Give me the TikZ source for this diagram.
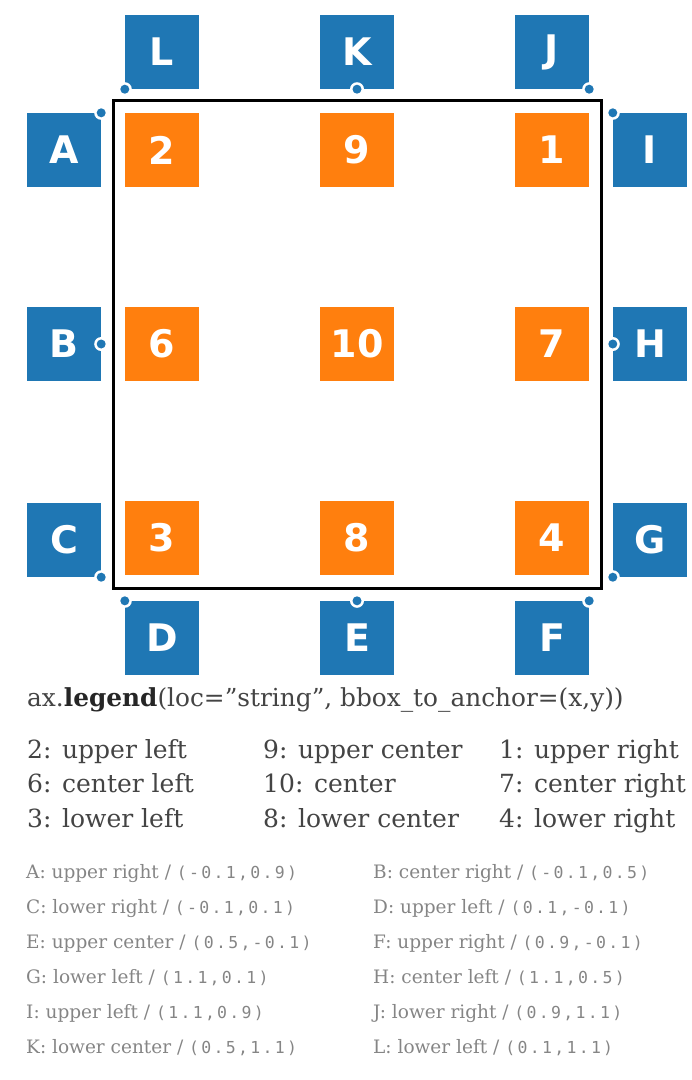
\documentclass[tikz,border=0pt]{standalone}
\usepackage{fontspec}
\setmainfont{DejaVu Serif}
\setsansfont{DejaVu Sans}
\newfontfamily\codefont[LetterSpace=14]{DejaVu Sans Mono}
\usetikzlibrary{positioning}
\definecolor{locblue}{HTML}{1F77B4}
\definecolor{locorange}{HTML}{FF7F0E}
\definecolor{ink}{HTML}{444444}
\definecolor{faint}{HTML}{858585}
\tikzset{
  legbox/.style={minimum size=74pt,inner sep=0pt,text=white,font=\sffamily\bfseries\fontsize{38}{38}\selectfont},
  inbox/.style={legbox,fill=locorange},
  outbox/.style={legbox,fill=locblue},
  loctext/.style={anchor=base west,inner sep=0pt,text=ink,font=\fontsize{25}{25}\selectfont},
  anctext/.style={anchor=base west,inner sep=0pt,text=faint,font=\fontsize{18.5}{18.5}\selectfont}
}
\begin{document}
\begin{tikzpicture}[x=1pt,y=-1pt]
\useasboundingbox (0,0) rectangle (692,1080);
% the axes frame
\node[draw,line width=3pt,minimum size=488pt,inner sep=0pt] (ax) at (357,344) {};
% legends placed with loc only
\foreach \n/\x/\y in {2/162/150,9/357/150,1/552/150,6/162/344,10/357/344,7/552/344,3/162/538,8/357/538,4/552/538}
  \node[inbox] (in\n) at (\x,\y) {\n};
% legends placed with bbox_to_anchor
\foreach \n/\x/\y in {L/162/52,K/357/52,J/552/52,A/64/150,B/64/344,C/64/540,I/650/150,H/650/344,G/650/540,D/162/638,E/357/638,F/552/638}
  \node[outbox] (\n) at (\x,\y) {\n};
\foreach \n/\a in {A/north east,B/east,C/south east,D/north west,E/north,F/north east,G/south west,H/west,I/north west,J/south east,K/south,L/south west} {
  \fill[white] (\n.\a) circle (7pt);
  \fill[locblue] (\n.\a) circle (4.5pt);
}
% captions
\node[loctext,font=\fontsize{24.8}{24.8}\selectfont] (call) at (27,706) {ax.\textbf{\color{black!85}legend}(loc="string”, bbox\_to\_anchor=(x,y))};
\foreach \a/\b/\c [count=\i from 0] in {2: upper left/9: upper center/1: upper right,6: center left/10: center/7: center right,3: lower left/8: lower center/4: lower right} {
  \node[loctext] (locA\i) at (27,758+34.5*\i) {\a};
  \node[loctext] (locB\i) at (263,758+34.5*\i) {\b};
  \node[loctext] (locC\i) at (499,758+34.5*\i) {\c};
}
\foreach \t/\c [count=\i from 0] in {A: upper right/{(-0.1,0.9)},C: lower right/{(-0.1,0.1)},E: upper center/{(0.5,-0.1)},G: lower left/{(1.1,0.1)},I: upper left/{(1.1,0.9)},K: lower center/{(0.5,1.1)}}
  \node[anctext] (ancL\i) at (26,878+35*\i) {\t\ /\ {\codefont\fontsize{16.5}{16.5}\selectfont\c}};
\foreach \t/\c [count=\i from 0] in {B: center right/{(-0.1,0.5)},D: upper left/{(0.1,-0.1)},F: upper right/{(0.9,-0.1)},H: center left/{(1.1,0.5)},J: lower right/{(0.9,1.1)},L: lower left/{(0.1,1.1)}}
  \node[anctext] (ancR\i) at (373,878+35*\i) {\t\ /\ {\codefont\fontsize{16.5}{16.5}\selectfont\c}};
\end{tikzpicture}
\end{document}
